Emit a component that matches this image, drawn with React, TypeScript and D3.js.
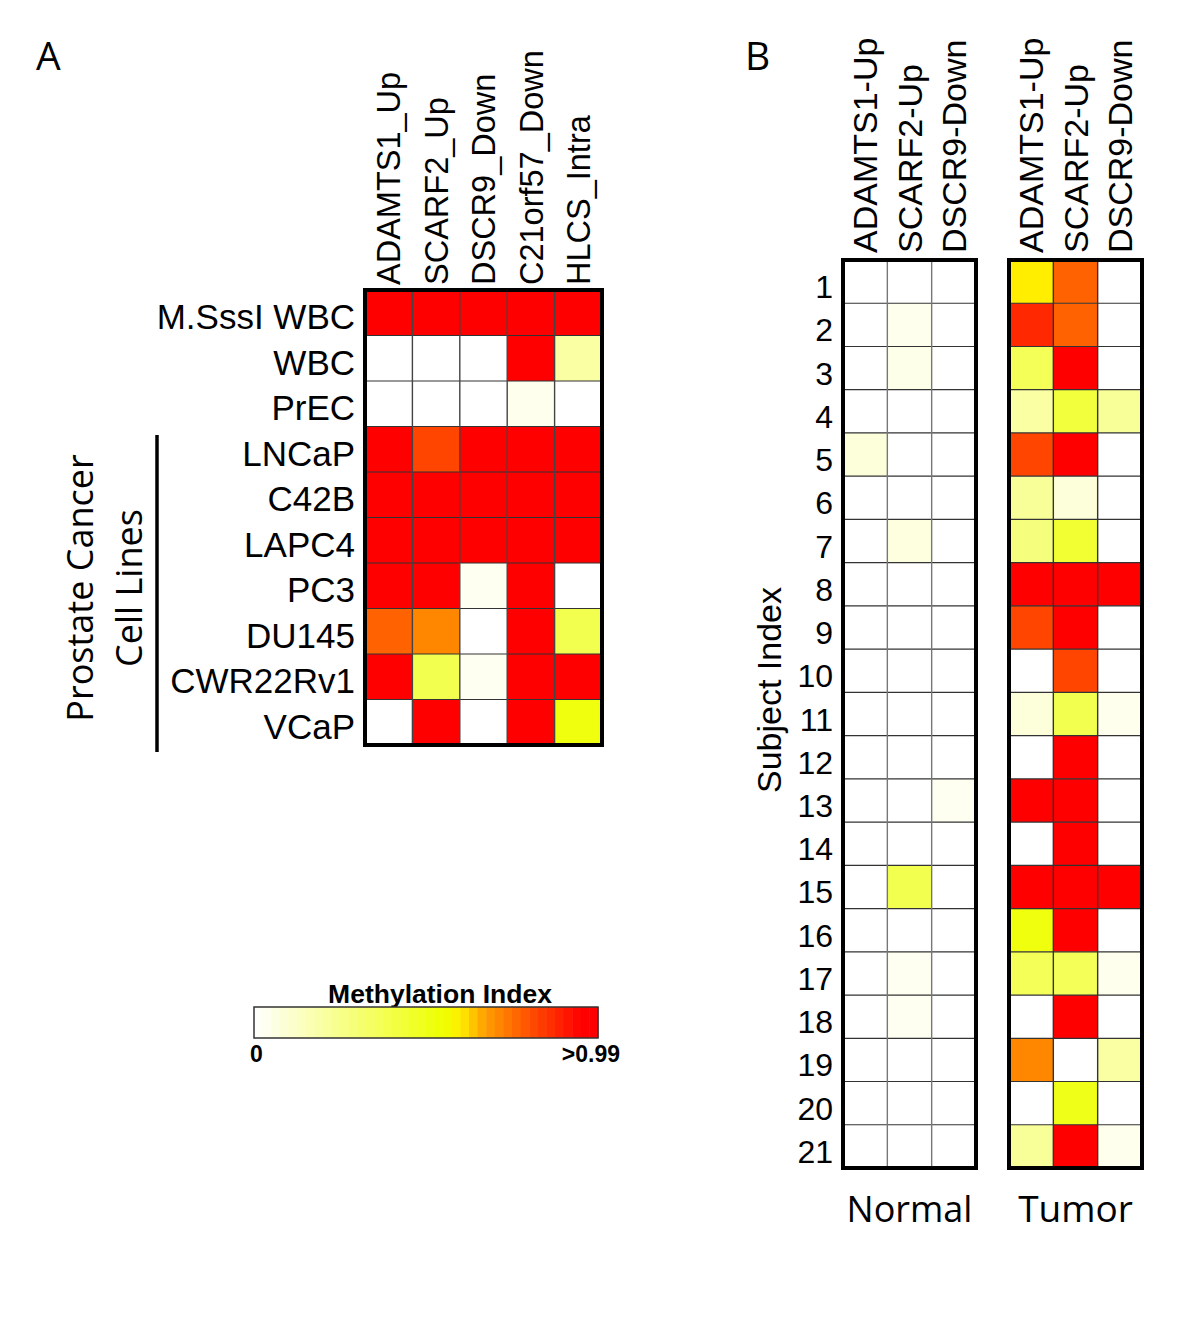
import React from "react";
import * as d3 from "d3";

// ---------- DATA ----------
const aRows = ["M.SssI WBC", "WBC", "PrEC", "LNCaP", "C42B", "LAPC4", "PC3", "DU145", "CWR22Rv1", "VCaP"];
const aCols = ["ADAMTS1_Up", "SCARF2_Up", "DSCR9_Down", "C21orf57_Down", "HLCS_Intra"];
const aValues = [
  [1, 1, 1, 1, 1],
  [0, 0, 0, 1, 0.2],
  [0, 0, 0, 0.04, 0],
  [1, 0.82, 1, 1, 1],
  [1, 1, 1, 1, 1],
  [1, 1, 1, 1, 1],
  [1, 1, 0.03, 1, 0],
  [0.77, 0.71, 0, 1, 0.38],
  [1, 0.38, 0.03, 1, 1],
  [0, 1, 0, 1, 0.52],
];

const bCols = ["ADAMTS1-Up", "SCARF2-Up", "DSCR9-Down"];
const subjects = ["1", "2", "3", "4", "5", "6", "7", "8", "9", "10", "11", "12", "13", "14", "15", "16", "17", "18", "19", "20", "21"];
const normalValues = [
  [0, 0, 0], [0, 0.04, 0], [0, 0.05, 0], [0, 0, 0], [0.08, 0, 0], [0, 0, 0], [0, 0.07, 0],
  [0, 0, 0], [0, 0, 0], [0, 0, 0], [0, 0, 0], [0, 0, 0], [0, 0, 0.03], [0, 0, 0],
  [0, 0.38, 0], [0, 0, 0], [0, 0.03, 0], [0, 0.03, 0], [0, 0, 0], [0, 0, 0], [0, 0, 0],
];
const tumorValues = [
  [0.6, 0.77, 0], [0.875, 0.77, 0], [0.36, 1, 0], [0.2, 0.42, 0.22], [0.82, 1, 0], [0.22, 0.08, 0], [0.28, 0.44, 0],
  [1, 1, 1], [0.82, 1, 0], [0, 0.82, 0], [0.08, 0.38, 0.04], [0, 1, 0], [1, 1, 0], [0, 1, 0],
  [1, 1, 1], [0.52, 1, 0], [0.36, 0.36, 0.04], [0, 1, 0], [0.71, 0, 0.2], [0, 0.5, 0], [0.22, 1, 0.04],
];
const groupLabels = ["Normal", "Tumor"];
const legendTicks = ["0", ">0.99"];

// ---------- STYLE ----------
const ARIAL = "'Liberation Sans', Arial, Helvetica, sans-serif";
const MYRIAD = "'Open Sans', 'Noto Sans', sans-serif";

const color = d3
  .scaleLinear<string>()
  .domain([0, 0.55, 0.6, 0.67, 0.8, 0.95])
  .range(["#ffffff", "#eeff00", "#ffee00", "#ffa000", "#ff5000", "#ff0000"])
  .clamp(true);

type HMProps = {
  x0: number; x1: number; y0: number; y1: number;
  rows: string[]; cols: string[]; values: number[][];
  vStroke: string;
};

function Heatmap({ x0, x1, y0, y1, rows, cols, values, vStroke }: HMProps) {
  const x = d3.scaleBand<string>().domain(cols).range([x0, x1]);
  const y = d3.scaleBand<string>().domain(rows).range([y0, y1]);
  return (
    <g>
      {rows.map((r, i) =>
        cols.map((c, j) => (
          <rect key={r + c} x={x(c)} y={y(r)} width={x.bandwidth()} height={y.bandwidth()} fill={color(values[i][j])} />
        ))
      )}
      {rows.slice(1).map((r) => (
        <line key={"h" + r} x1={x0} x2={x1} y1={y(r)} y2={y(r)} stroke="#333" strokeWidth={1.2} />
      ))}
      {cols.slice(1).map((c) => (
        <line key={"v" + c} x1={x(c)} x2={x(c)} y1={y0} y2={y1} stroke={vStroke} strokeWidth={1.4} />
      ))}
      <rect x={x0} y={y0} width={x1 - x0} height={y1 - y0} fill="none" stroke="#000" strokeWidth={4} />
    </g>
  );
}

function ColHeaders({ x0, x1, cols, bottom, size }: { x0: number; x1: number; cols: string[]; bottom: number; size: number }) {
  const x = d3.scaleBand<string>().domain(cols).range([x0, x1]);
  return (
    <g>
      {cols.map((c) => (
        <text
          key={c}
          transform={`translate(${(x(c) as number) + x.bandwidth() / 2},${bottom}) rotate(-90)`}
          dy="0.36em"
          fontFamily={ARIAL}
          fontSize={size}
          fill="#000"
        >
          {c}
        </text>
      ))}
    </g>
  );
}

export default function App() {
  // Panel A geometry
  const ax0 = 365, ax1 = 602, ay0 = 290, ay1 = 745;
  const ay = d3.scaleBand<string>().domain(aRows).range([ay0, ay1]);
  // Panel B geometry
  const by0 = 260, by1 = 1168;
  const nx0 = 843, nx1 = 976;
  const tx0 = 1009, tx1 = 1142;
  const by = d3.scaleBand<string>().domain(subjects).range([by0, by1]);

  // legend
  const lx0 = 254, lx1 = 598, ly0 = 1007, ly1 = 1038;
  const steps = d3.range(0, 40);
  const lx = d3.scaleLinear().domain([0, steps.length]).range([lx0, lx1]);

  return (
    <svg width={1200} height={1330} style={{ display: "block", position: "absolute", left: 0, top: 0, background: "#fff" }}>
      <rect width={1200} height={1330} fill="#fff" />
      {/* Panel labels */}
      <text x={36} y={70} fontFamily={MYRIAD} fontSize={39} fill="#000">A</text>
      <text x={745} y={70} fontFamily={MYRIAD} fontSize={39} fill="#000">B</text>

      {/* Panel A */}
      <ColHeaders x0={ax0} x1={ax1} cols={aCols} bottom={285} size={32.5} />
      <Heatmap x0={ax0} x1={ax1} y0={ay0} y1={ay1} rows={aRows} cols={aCols} values={aValues} vStroke="#444" />
      {aRows.map((r) => (
        <text key={r} x={355} y={(ay(r) as number) + ay.bandwidth() / 2 + 4} dy="0.36em" textAnchor="end" fontFamily={ARIAL} fontSize={35} fill="#000">
          {r}
        </text>
      ))}
      <line x1={157} x2={157} y1={435} y2={752} stroke="#000" strokeWidth={3.5} />
      <text transform="translate(93,588) rotate(-90)" textAnchor="middle" fontFamily={MYRIAD} fontSize={36} fill="#000">Prostate Cancer</text>
      <text transform="translate(142,588) rotate(-90)" textAnchor="middle" fontFamily={MYRIAD} fontSize={36} fill="#000">Cell Lines</text>

      {/* Legend */}
      <text x={440} y={1003} textAnchor="middle" fontFamily={ARIAL} fontWeight="bold" fontSize={26.5} fill="#000">Methylation Index</text>
      {steps.map((s) => (
        <rect key={s} x={lx(s)} y={ly0} width={lx(s + 1) - lx(s) + 0.5} height={ly1 - ly0} fill={color((s + 0.5) / steps.length)} />
      ))}
      <rect x={lx0} y={ly0} width={lx1 - lx0} height={ly1 - ly0} fill="none" stroke="#333" strokeWidth={1.5} />
      <text x={250} y={1062} fontFamily={ARIAL} fontWeight="bold" fontSize={23} fill="#000">{legendTicks[0]}</text>
      <text x={620} y={1062} textAnchor="end" fontFamily={ARIAL} fontWeight="bold" fontSize={23} fill="#000">{legendTicks[1]}</text>

      {/* Panel B */}
      <ColHeaders x0={nx0} x1={nx1} cols={bCols} bottom={253} size={34} />
      <ColHeaders x0={tx0} x1={tx1} cols={bCols} bottom={253} size={34} />
      <Heatmap x0={nx0} x1={nx1} y0={by0} y1={by1} rows={subjects} cols={bCols} values={normalValues} vStroke="#777" />
      <Heatmap x0={tx0} x1={tx1} y0={by0} y1={by1} rows={subjects} cols={bCols} values={tumorValues} vStroke="#333" />
      {subjects.map((s) => (
        <text key={s} x={833} y={(by(s) as number) + by.bandwidth() / 2 + 5} dy="0.36em" textAnchor="end" fontFamily={ARIAL} fontSize={32} fill="#000">
          {s}
        </text>
      ))}
      <text transform="translate(781,690) rotate(-90)" textAnchor="middle" fontFamily={ARIAL} fontSize={34} fill="#000">Subject Index</text>
      <text x={(nx0 + nx1) / 2} y={1222} textAnchor="middle" fontFamily={MYRIAD} fontSize={36} fill="#000">{groupLabels[0]}</text>
      <text x={(tx0 + tx1) / 2} y={1222} textAnchor="middle" fontFamily={MYRIAD} fontSize={37} fill="#000">{groupLabels[1]}</text>
    </svg>
  );
}
